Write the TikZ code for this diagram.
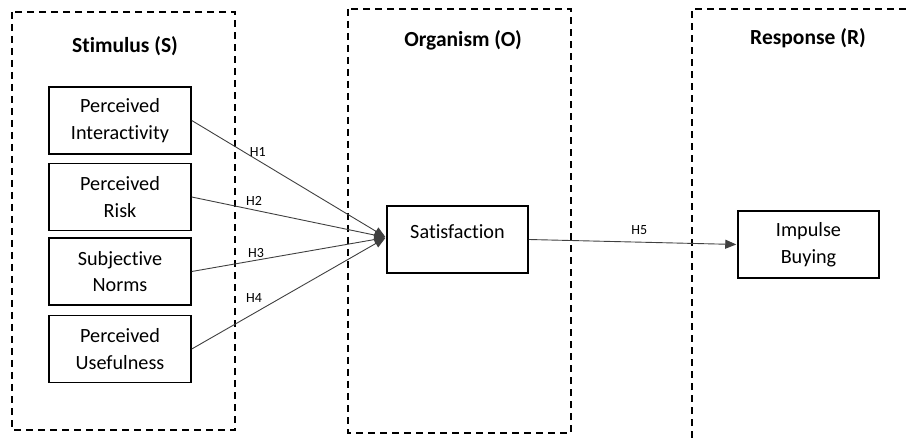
\documentclass[tikz,border=0pt]{standalone}
\usepackage{fontspec}
\setmainfont[Ligatures=NoCommon]{Carlito}
\usetikzlibrary{arrows.meta}
\begin{document}
\begin{tikzpicture}[x=1pt,y=-1pt,
  zone/.style={draw=black,line width=1.6pt,dash pattern=on 7pt off 5pt},
  ttl/.style={font=\fontsize{21.5}{26}\selectfont\bfseries},
  var/.style={draw=black,line width=1.5pt,minimum width=142pt,minimum height=67pt,inner sep=0pt,align=center,font=\fontsize{20.2}{26.5}\selectfont},
  lbl/.style={font=\fontsize{14}{16}\selectfont,inner sep=0pt},
  arr/.style={draw=black!75,line width=0.9pt,-{Triangle[length=11pt,width=9pt]},shorten >=1pt}]
\useasboundingbox (0,0) rectangle (908,438);
% zones
\draw[zone] (12,12) rectangle (235,430);
\draw[zone] (348,9) rectangle (571,433);
\draw[zone] (692,438) -- (692,9) -- (910,9);
% titles
\node[ttl] (tS) at (125,46) {Stimulus (S)};
\node[ttl] (tO) at (463,40) {Organism (O)};
\node[ttl] (tR) at (808,38) {Response (R)};
% stimulus boxes
\node[var] (s1) at (120,120.5) {Perceived\\Interactivity};
\node[var] (s2) at (120,197) {Perceived\\Risk};
\node[var] (s3) at (120,271.5) {Subjective\\Norms};
\node[var] (s4) at (120,349) {Perceived\\Usefulness};
% organism
\node[var,minimum width=141pt] (sat) at (457.5,239.5) {};
\node[font=\fontsize{20.2}{26.5}\selectfont,inner sep=0pt] (satt) at (457.5,232) {Satisfaction};
\coordinate (satin) at ([yshift=2pt]sat.west);
% response
\node[var,minimum width=141pt] (imp) at (808.5,244.5) {Impulse\\Buying};
% arrows
\draw[arr] (s1.east) -- node[lbl,pos=0.34,above=3pt] (h1) {H1} (satin);
\draw[arr] (s2.east) -- node[lbl,pos=0.32,above=4pt] (h2) {H2} (satin);
\draw[arr] (s3.east) -- node[lbl,pos=0.33,above=2pt] (h3) {H3} (satin);
\draw[arr] (s4.east) -- node[lbl,pos=0.32,above=10pt] (h4) {H4} (satin);
\draw[arr] (sat.east) -- node[lbl,pos=0.53,above=7pt] (h5) {H5} (imp.west);
\end{tikzpicture}
\end{document}
